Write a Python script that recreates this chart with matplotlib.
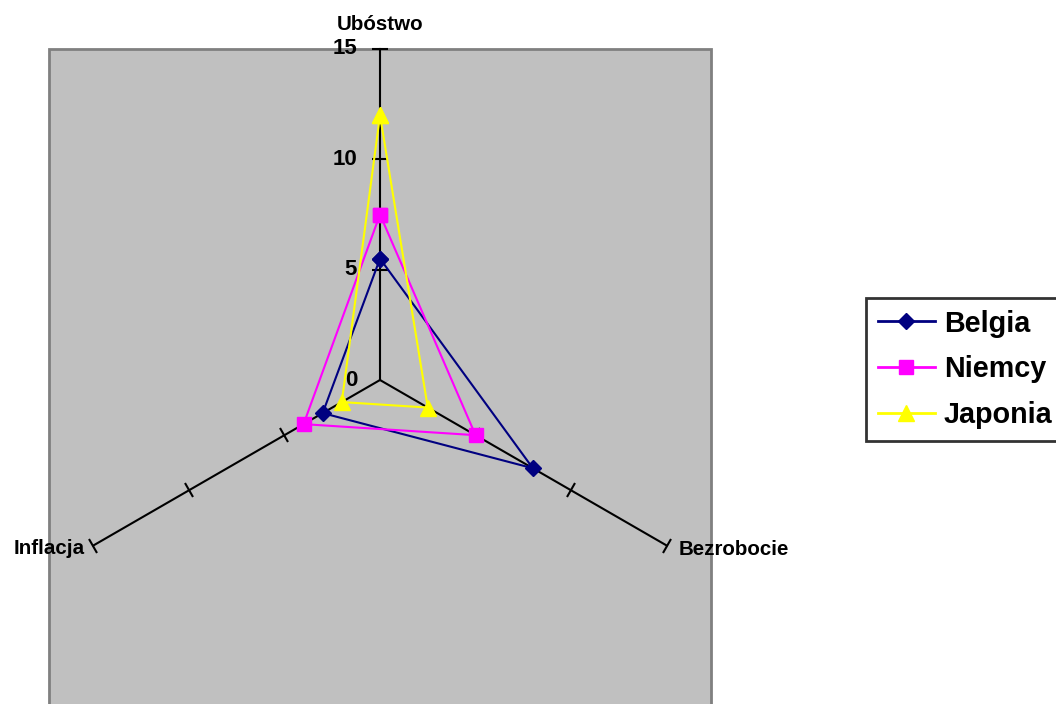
import numpy as np
import matplotlib.pyplot as plt
from matplotlib.patches import Rectangle
from matplotlib.markers import MarkerStyle
from matplotlib.transforms import Affine2D

plt.rcParams['font.family'] = ['Liberation Sans', 'DejaVu Sans']
plt.rcParams['font.weight'] = 'bold'

# -----------------------------
# Data
# -----------------------------
categories = ["Ubóstwo", "Bezrobocie", "Inflacja"]
belgia = [5.5, 8, 3]
niemcy = [7.5, 5, 4]
japonia = [12, 2.5, 2]
r_ticks = [0, 5, 10, 15]

W, H = 1056, 704
fig = plt.figure(figsize=(W / 100, H / 100), dpi=100)

# gray plot area
fig.patches.append(Rectangle((49 / W, -0.02), 662 / W, (704 - 49) / H + 0.02,
                             transform=fig.transFigure, facecolor="#C0C0C0",
                             edgecolor="#808080", linewidth=2, zorder=-5))

# polar axes centred at (380, 380) px, radius 331 px
cx, cy, rad = 380, 380, 331
ax = fig.add_axes([(cx - rad) / W, (H - cy - rad) / H, 2 * rad / W, 2 * rad / H],
                  projection="polar")
ax.set_zorder(2)
ax.set_theta_offset(np.pi / 2)
ax.set_theta_direction(-1)
ax.set_ylim(0, 15)
ax.set_axis_off()

angles = np.deg2rad([0, 120, 240])

# spokes + ticks
tick_rot = [0, 60, -60]
for a, rot in zip(angles, tick_rot):
    ax.plot([a, a], [0, 15], color="black", lw=1.5, zorder=2, clip_on=False)
    m = MarkerStyle("_", transform=Affine2D().rotate_deg(rot))
    ax.plot([a] * 3, r_ticks[1:], linestyle="none", marker=m, markersize=11,
            markeredgewidth=1.5, color="black", zorder=2, clip_on=False)

# tick labels on top spoke
for v in r_ticks:
    ax.annotate(str(v), xy=(0, v), xytext=(-16.5, 0), textcoords="offset points",
                ha="right", va="center", fontsize=16, fontweight="bold",
                annotation_clip=False)

# category labels
offsets = [(0, 18, "center"), (8.5, -3, "left"), (-6.5, -2, "right")]
for a, lab, (dx, dy, ha) in zip(angles, categories, offsets):
    ax.annotate(lab, xy=(a, 15), xytext=(dx, dy), textcoords="offset points",
                ha=ha, va="center", fontsize=14.8, fontweight="bold",
                annotation_clip=False)

# series
closed = np.append(angles, angles[0])
series = [("Belgia", belgia, "#000080", "D", 8),
          ("Niemcy", niemcy, "#FF00FF", "s", 10),
          ("Japonia", japonia, "#FFFF00", "^", 11)]
handles = []
for name, vals, col, mk, ms in series:
    h, = ax.plot(closed, vals + vals[:1], color=col, lw=1.5, marker=mk,
                 markersize=ms, markeredgecolor=col, markerfacecolor=col,
                 label=name, zorder=3, clip_on=False)
    handles.append(h)

leg = fig.legend(handles=handles, loc="upper left",
                 bbox_to_anchor=(866 / W, 1 - 298 / H), fontsize=20.7,
                 frameon=True, fancybox=False, handlelength=2.0,
                 handletextpad=0.3, labelspacing=0.62, borderpad=0.4,
                 borderaxespad=0)
leg.get_frame().set_edgecolor("black")
leg.get_frame().set_linewidth(2)
for t in leg.get_texts():
    t.set_fontweight("bold")
for line in leg.get_lines():
    line.set_linewidth(2)

plt.savefig("out.png", dpi=100)
